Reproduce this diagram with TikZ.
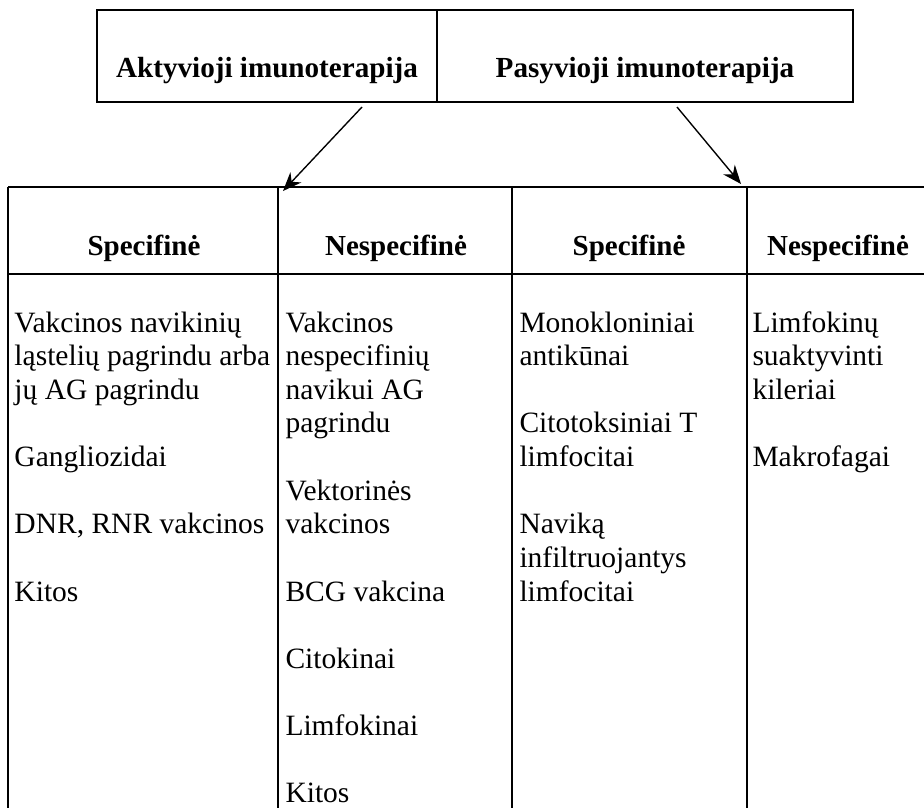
\documentclass[tikz,border=0pt]{standalone}
\usepackage{fontspec}
\setmainfont{Liberation Serif}
\usetikzlibrary{arrows.meta}
\newcommand\colbox[2]{\begin{minipage}[t]{#1}\raggedright #2\end{minipage}}
\begin{document}
\begin{tikzpicture}[x=0.4pt,y=-0.4pt,
  frame/.style={draw=black,line width=0.55pt},
  titletext/.style={font=\fontsize{11.65}{14}\selectfont\bfseries,anchor=base,inner sep=0pt},
  headtext/.style={font=\fontsize{11.6}{14}\selectfont\bfseries,anchor=base,inner sep=0pt},
  bodytext/.style={anchor=base west,inner sep=0pt,font=\fontsize{11.8}{13.45}\selectfont},
  arr/.style={-{Stealth[length=7.5pt,width=6pt]},line width=0.55pt}]
\useasboundingbox (0,0) rectangle (924,807);
\clip (0,0) rectangle (924,807);
% top box
\draw[frame] (97,10) rectangle (853,102);
\draw[frame] (437,10) -- (437,102);
\node[titletext] (act) at (267,77) {Aktyvioji imunoterapija};
\node[titletext] (pas) at (645,77) {Pasyvioji imunoterapija};
% table
\coordinate (tl) at (8,187);
\coordinate (d1) at (278,187);
\coordinate (d2) at (512,187);
\coordinate (d3) at (747,187);
\draw[frame] (tl) -- (940,187);
\draw[frame] (8,274) -- (940,274);
\draw[frame] (tl) -- (8,830);
\draw[frame] (d1) -- (278,830);
\draw[frame] (d2) -- (512,830);
\draw[frame] (d3) -- (747,830);
% arrows
\coordinate (a1s) at (362,107);
\coordinate (a1e) at (283,191);
\coordinate (a2s) at (677,107);
\coordinate (a2e) at (741,184);
\draw[arr] (a1s) -- (a1e);
\draw[arr] (a2s) -- (a2e);
% headers
\node[headtext] (h1) at (144,255) {Specifinė};
\node[headtext] (h2) at (396,255) {Nespecifinė};
\node[headtext] (h3) at (629,255) {Specifinė};
\node[headtext] (h4) at (838,255) {Nespecifinė};
% bodies
\node[bodytext] (b1) at (14,332) {\colbox{120pt}{Vakcinos navikinių\\ląstelių pagrindu arba\\jų AG pagrindu\\[13.45pt]Gangliozidai\\[13.45pt]DNR, RNR vakcinos\\[13.45pt]Kitos}};
\node[bodytext] (b2) at (285,332) {\colbox{90pt}{Vakcinos\\nespecifinių\\navikui AG\\pagrindu\\[13.45pt]Vektorinės\\vakcinos\\[13.45pt]BCG vakcina\\[13.45pt]Citokinai\\[13.45pt]Limfokinai\\[13.45pt]Kitos}};
\node[bodytext] (b3) at (519,332) {\colbox{90pt}{Monokloniniai\\antikūnai\\[13.45pt]Citotoksiniai T\\limfocitai\\[13.45pt]Naviką\\infiltruojantys\\limfocitai}};
\node[bodytext] (b4) at (752,332) {\colbox{70pt}{Limfokinų\\suaktyvinti\\kileriai\\[13.45pt]Makrofagai}};
\end{tikzpicture}
\end{document}
